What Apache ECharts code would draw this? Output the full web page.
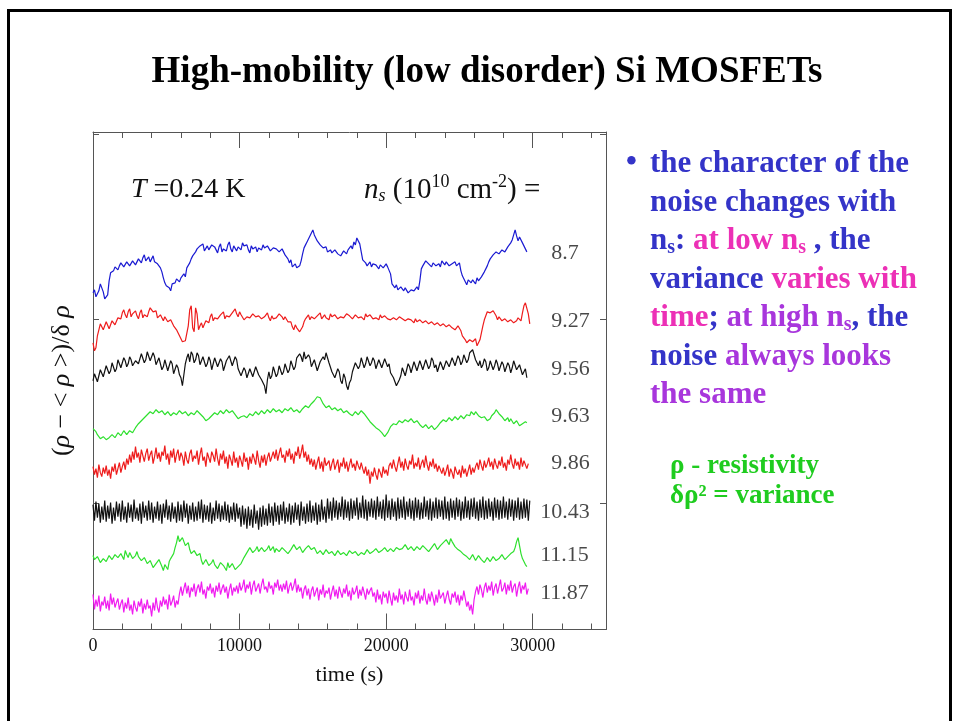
<!DOCTYPE html>
<html>
<head>
<meta charset="utf-8">
<script src="https://cdn.jsdelivr.net/npm/echarts@6/dist/echarts.min.js"></script>
<style>
  html, body { margin: 0; padding: 0; background: #fff; }
  #chart { width: 954px; height: 721px; }
</style>
</head>
<body>
<div id="chart"></div>
<script>
// Carrier densities n_s (10^10 cm^-2), one resistance-noise trace each, top to bottom
const densities = ['8.7', '9.27', '9.56', '9.63', '9.86', '10.43', '11.15', '11.87'];

// Seconds between consecutive samples
const sampleStep = 100;

// Vertical offset that stacks the traces
const traceOffset = [238, 186, 138, 88, 43, -8, -48, -93];

// Normalised fluctuation (rho - <rho>)/delta-rho of each trace, in plot units
const trace87 = [-27,-24,-31,-28,-25,-18,-20,-26,-33,-35,-29,-15,-7,-9,-5,-1,-2,-4,0,3,2,-1,1,4,3,0,1,5,4,1,2,7,6,3,8,11,5,7,9,4,7,10,4,6,2,0,
  -2,-6,-12,-17,-20,-18,-22,-25,-18,-20,-17,-13,-14,-16,-12,-10,-8,-11,-2,0,3,7,10,8,14,17,17,20,
  18,22,15,17,20,16,17,21,22,19,16,13,19,22,14,17,18,15,21,24,17,14,20,18,15,19,19,16,23,20,18,21,16,13,20,17,17,19,14,18,19,16,21,18,16,20,18,15,15,18,20,17,17,14,13,17,16,11,12,7,
  3,6,-1,1,2,-2,-3,0,5,12,18,21,24,27,30,33,36,31,28,25,24,21,
  20,18,17,19,14,12,16,13,12,16,15,12,13,10,11,15,14,12,16,18,20,17,24,21,28,30,22,14,6,4,3,0,
  2,4,-1,2,3,1,0,-3,1,3,-2,0,2,-1,-1,-8,-18,-20,-22,-19,-24,-26,-21,-23,-25,-22,-23,-27,-26,-24,-22,-25,-25,-21,-24,-15,
  -3,0,2,5,4,2,1,-1,3,5,0,2,2,-1,5,3,1,4,3,0,-1,2,2,4,0,-2,3,-5,
  -10,-13,-16,-19,-14,-16,-17,-14,-15,-18,-12,-15,-13,-11,-9,-6,
  -3,0,4,7,9,11,12,14,15,12,13,16,17,14,16,19,20,23,26,31,36,30,25,29,27,23,20,17,14];

const trace927 = [-25,-33,-30,-18,-12,-6,-8,-12,-10,-4,-6,-11,-9,-3,-4,-7,-5,0,2,-1,
  5,8,3,0,6,9,1,4,4,7,2,-1,5,8,0,3,3,1,6,10,
  9,6,4,7,0,-2,3,0,-3,1,-1,-4,-6,-2,-4,-8,-10,-12,-15,-18,
  -20,-24,-26,-23,-22,-8,8,12,-10,-14,10,4,-12,-8,-5,-10,-8,-3,-2,-5,
  1,4,-3,0,2,-1,0,3,3,6,-1,2,4,1,2,5,7,9,4,1,
  6,3,1,-2,-2,1,3,0,0,4,4,1,-1,2,2,-1,-2,1,3,5,
  0,-3,2,-1,-3,0,1,4,4,1,-2,1,0,-4,-6,-4,-9,-12,-7,-10,
  -12,-14,-15,-9,-4,-1,1,3,-2,1,3,-1,0,2,2,5,-1,1,3,0,
  1,-2,4,1,0,3,2,-1,-2,1,3,0,1,4,5,2,2,-1,0,3,
  3,0,-2,1,1,-2,4,1,0,3,2,-1,-3,0,1,-2,3,0,-1,2,
  2,-1,0,-2,-3,0,1,-2,-2,1,2,-1,-1,-3,-4,-1,0,-2,-3,-5,
  -1,-4,-5,-2,-2,-5,-6,-3,-3,-6,-7,-4,-4,-7,-8,-5,-5,-8,-9,-6,
  -6,-9,-10,-7,-7,-10,-9,-12,-11,-8,-8,-13,-18,-20,-22,-25,-26,-22,-20,-24,
  -24,-21,-28,-25,-22,-15,-8,-2,2,6,8,5,4,7,6,2,-2,1,0,-3,
  -4,-1,-1,-4,-5,-2,-2,-5,-6,-3,0,-2,-3,5,12,15,14,4,-6];

const trace956 = [-15,-8,-10,-16,-14,-4,-6,-11,-9,0,-2,-8,-5,3,1,-6,-3,6,4,-2,
  0,8,5,-1,2,9,6,0,-2,5,7,2,4,12,10,3,6,14,12,5,
  7,13,9,1,3,8,6,-4,-1,6,4,-5,-3,5,2,-8,-6,1,-2,-9,
  -12,-20,-18,2,8,12,4,14,11,3,6,13,10,1,3,9,8,-1,2,9,
  5,-4,-2,8,6,-1,1,7,4,-5,-3,5,3,10,8,0,2,9,6,-3,
  -4,-10,-8,-2,-5,-12,-10,-3,-4,-11,-9,-1,-3,-9,-7,-14,-12,-20,-28,-14,
  -6,-13,-10,-1,-3,-11,-8,0,-2,-9,-6,2,0,-7,-4,5,3,-4,-1,8,
  6,12,9,4,14,7,5,11,8,-1,0,6,4,-5,-3,4,2,9,6,13,
  11,3,2,-6,-4,-12,-10,-3,-6,-15,-18,-8,-12,-20,-24,-17,-14,-6,-4,3,
  4,-3,0,8,6,-2,2,9,7,0,3,8,5,-3,-1,6,4,-2,0,7,
  6,-1,2,-7,-5,-12,-16,-20,-22,-14,-10,-2,-4,-10,-8,2,-1,-7,-5,4,
  2,-5,-3,5,3,-4,-2,6,4,-3,0,8,5,-2,1,-6,-4,4,2,-4,
  -2,5,4,-1,1,8,6,0,2,10,7,1,4,11,9,3,6,13,11,16,
  14,6,8,0,5,-2,1,7,4,-5,-2,5,3,-4,0,6,2,-5,-3,4,
  1,-6,-4,3,0,-7,-2,5,3,-4,-6,1,2,-9,-8,-3,-12];

const trace963 = [-13,-11,-16,-19,-20,-23,-24,-21,-21,-24,-25,-22,-22,-19,-19,-22,-20,-17,-17,-20,
  -19,-15,-16,-19,-18,-15,-14,-17,-16,-12,-10,-8,-7,-5,-4,-2,-1,1,2,4,
  5,2,3,6,6,3,2,5,4,1,1,4,3,0,0,3,4,1,2,5,
  5,2,1,4,3,0,0,3,4,1,2,5,5,2,1,-1,-3,-5,-6,-3,
  -2,0,1,3,4,1,2,5,5,2,3,6,6,3,2,5,4,1,0,-3,
  -4,-1,-2,0,1,-2,-1,2,3,0,1,4,4,1,2,5,5,2,3,6,
  6,3,4,7,7,4,3,6,6,3,4,7,8,5,5,8,7,4,3,6,
  6,3,4,7,8,10,11,8,9,12,13,15,16,19,21,18,15,12,10,8,
  7,10,9,6,5,8,8,5,4,7,6,3,2,5,5,2,3,0,1,4,
  4,1,2,5,5,2,0,-2,-4,-6,-7,-9,-10,-12,-13,-14,-15,-17,-18,-21,
  -20,-17,-14,-11,-10,-8,-6,-9,-8,-5,-4,-7,-7,-4,-3,-6,-6,-3,-5,-7,
  -8,-5,-6,-9,-10,-12,-12,-9,-10,-13,-13,-10,-11,-14,-14,-11,-9,-7,-6,-4,
  -3,-6,-5,-2,-2,-5,-4,-1,-1,-4,-3,0,0,-3,-2,1,2,0,4,2,
  1,4,3,0,0,-2,-4,-1,-2,-5,-6,-3,0,2,3,6,5,2,1,-1,
  -2,-5,-4,-2,-6,-3,-5,-8,-8,-5,-7,-10,-10,-8,-9,-6,-7];

const trace986 = [-6,-14,-8,-17,-4,-12,-16,-7,-13,-5, -15,-9,-18,-6,-11,-3,-14,-8,-2,-12,
  -6,-1,-9,2,-4,6,-2,9,1,14, 3,8,-2,11,5,-1,7,12,0,6,
  10,-3,4,13,2,8,-1,9,5,15, 1,7,-4,10,3,12,-2,6,11,0,
  8,4,-5,9,1,-3,7,11,-1,5, 2,10,-4,6,13,0,4,-6,8,3,
  -2,9,5,-1,12,2,-5,7,1,10, -3,4,-8,6,1,-5,9,-2,3,-7,
  5,0,-6,8,-1,3,-9,4,-3,7, 2,-4,10,0,-7,5,-2,6,-5,3,
  8,-1,4,9,2,11,0,7,13,3, 6,-2,10,4,12,1,7,-3,9,5,
  14,2,8,16,3,9,-1,6,-4,2, -6,1,-9,-2,4,-8,-1,-11,3,-5,
  -7,0,-10,-3,2,-9,-4,1,-12,-2, -6,3,-8,-1,-11,-4,2,-7,-3,-10,
  0,-5,-9,-2,-8,-13,-6,-15,-9,-23, -11,-16,-7,-14,-19,-8,-12,-17,-6,-13,
  -9,-15,-5,-2,-8,1,-6,-11,-3,4, -7,-1,-10,2,-5,-9,0,-4,6,-8,
  -2,-6,3,-9,-3,1,-7,5,-4,-10, -1,-6,2,-8,-3,-11,-5,-9,-13,-7,
  -15,-10,-4,-16,-8,-12,-18,-6,-11,-14, -9,-17,-5,-13,-8,-16,-10,-4,-14,-7,
  -12,-6,-2,-9,1,-5,-10,0,-7,-3, 3,-6,-1,-9,2,-4,-8,0,-5,4,
  -7,-2,-10,1,-4,6,-3,-8,2,-5, -1,-9,3,-6,0,-4,-8,-3];

const trace1043 = [7,-9,10,-6,8,-11,5,-8,11,-10, 6,-7,9,-12,4,-9,10,-5,8,-10,
  11,-8,5,-11,9,-6,7,-10,12,-7, 4,-9,8,-12,10,-6,6,-9,11,-8,
  9,-11,5,-7,10,-9,7,-12,8,-6, 12,-8,6,-10,9,-7,5,-11,10,-9,
  7,-10,11,-6,8,-12,6,-8,9,-10, 5,-9,10,-7,12,-11,7,-8,6,-10,
  9,-12,4,-9,11,-7,8,-10,6,-8, 10,-9,7,-11,5,-8,9,-10,8,-7,
  4,-15,6,-13,3,-17,5,-14,2,-16, 7,-12,1,-18,4,-15,6,-13,3,-14,
  8,-11,5,-14,9,-10,6,-13,7,-9, 10,-12,4,-10,8,-13,6,-11,9,-8,
  7,-14,10,-9,5,-12,8,-10,11,-11, 6,-9,9,-13,7,-10,12,-8,5,-11,
  13,-7,10,-9,14,-6,11,-8,9,-5, 15,-8,12,-6,10,-9,13,-7,11,-4,
  14,-8,9,-6,16,-7,12,-9,10,-5, 13,-6,11,-8,15,-5,10,-7,12,-9,
  17,-6,11,-8,13,-5,10,-9,14,-7, 12,-6,15,-8,10,-5,13,-7,11,-9,
  14,-6,12,-8,9,-7,15,-5,11,-8, 13,-9,10,-6,14,-7,12,-5,11,-8,
  15,-7,10,-9,13,-6,11,-8,14,-5, 12,-9,10,-7,15,-6,11,-8,13,-5,
  14,-7,10,-9,12,-6,15,-8,11,-7, 13,-5,10,-9,14,-6,12,-8,11,-7,
  15,-6,10,-8,13,-5,12,-9,11,-6, 14,-8,10,-7,13,-6,12,-9,11];

const trace1115 = [-4,-8,-10,-5,-6,-11,-12,-7,-5,-10,-9,-4,-3,-8,-8,-3,-2,-6,-7,-2,
  -4,-8,1,-3,-6,-1,-3,-7,-8,-4,0,-5,-5,-9,-10,-6,-7,-12,-14,-9,
  -11,-16,-17,-12,-13,-8,-9,-15,-19,-13,-14,-18,-10,-7,-6,-2,4,9,16,10,
  8,14,12,6,5,9,2,-2,-3,1,0,-4,-6,-2,-9,-13,-13,-8,-10,-14,
  -15,-11,-8,-13,-12,-17,-16,-11,-9,-14,-14,-19,-11,-16,-17,-12,-13,-18,-20,-15,
  -16,-12,-10,-6,-4,-1,0,4,3,-1,-2,2,5,0,1,4,4,0,-1,3,
  6,1,2,5,-1,3,4,0,0,4,5,1,2,-2,-2,2,3,7,6,2,
  1,5,4,-1,-1,3,3,6,7,2,0,4,2,-2,-3,1,1,-3,-2,2,
  2,-2,-4,0,0,-4,-3,1,1,-3,-5,-1,-1,-4,-3,1,2,-2,-4,0,
  -1,-4,-5,-1,0,-3,-2,2,1,-2,-4,0,-1,3,2,-1,-3,1,0,4,
  3,0,-1,3,4,0,1,4,5,2,0,3,3,7,6,2,2,5,4,1,
  1,5,5,2,2,6,7,3,3,0,0,4,4,8,6,2,2,6,5,9,
  8,12,11,7,13,10,9,5,6,2,4,0,1,-3,-2,-5,-4,-8,-6,-3,
  -5,-9,-8,-4,-4,-8,-7,-11,-10,-6,-6,-10,-9,-5,-5,-9,-11,-7,-7,-3,
  -4,-8,-8,-5,-6,-2,-3,0,4,10,14,6,-2,-7,-10,-13,-15];

const trace1187 = [2,-13,-3,-10,1,-15,-5,-9,0,-12, -4,-14,3,-8,-1,-11,-6,-2,-13,-7,
  -3,-16,-6,-12,-1,-14,-8,-18,-4,-11, -15,-5,-10,-2,-17,-7,-13,-3,-12,-9,
  -20,-6,-14,-1,-11,-16,-4,-10,0,-8, -3,-13,2,-9,-5,1,-11,-4,-8,3,
  10,1,8,14,3,11,-1,9,5,13, 0,8,12,4,15,2,7,-2,10,6,
  13,3,9,-1,11,5,14,2,8,12, 4,10,-2,7,13,1,9,5,11,3,
  14,6,10,17,4,12,8,15,2,11, 16,5,9,13,3,12,18,7,10,4,
  15,8,11,2,14,9,17,6,12,5, 13,7,16,3,10,14,6,11,18,4,
  12,5,9,-2,7,11,1,8,-3,6, 10,0,5,9,-4,7,2,12,-1,6,
  3,9,-3,5,11,0,7,-2,10,4, -1,8,3,12,0,6,-4,9,2,5,
  11,-2,7,1,10,4,-3,8,2,6, 9,0,4,-6,7,-3,2,-8,5,-1,
  3,-7,6,-2,-9,4,-4,1,-6,8, -3,2,-8,5,-1,-5,7,-4,0,-9,
  4,-2,6,-7,1,-4,8,-3,-8,3, -5,5,-1,-9,2,-6,7,-2,-4,4,
  -7,0,6,-3,-8,3,-1,5,-6,2, -9,1,-4,6,-2,-10,-5,-14,-8,-18,
  -3,5,10,2,12,7,-1,9,14,4, 11,6,15,1,9,13,3,10,17,5,
  8,14,2,12,6,16,4,10,13,0, 9,15,3,11,7,14,2,8];

const traces = [trace87, trace927, trace956, trace963, trace986, trace1043, trace1115, trace1187];

// Time axis tick labels (s)
const timeTicks = [0, 10000, 20000, 30000];

// Styling and layout
const traceColors = ['#1a1ad2', '#ee1c1c', '#111111', '#2ee02e', '#ee1c1c', '#111111', '#2ee02e', '#f01cf0'];
const labelTime = 31260;                       // left edge of the density labels
const labelLevels = [251, 183, 135, 87, 40, -9, -52, -90];
const serif = '"Liberation Serif", "DejaVu Serif", serif';
const frameColor = '#555';
const blue = '#3434c8', pink = '#ec30b6', violet = '#a836dc', green = '#1fcc1f';

const chart = echarts.init(document.getElementById('chart'), null, { renderer: 'canvas' });

const lineSeries = traces.map((vals, k) => ({
  type: 'line',
  name: densities[k],
  data: vals.map((d, i) => [i * sampleStep, traceOffset[k] + d]),
  showSymbol: false,
  symbol: 'none',
  silent: true,
  animation: false,
  lineStyle: { width: 1.2, color: traceColors[k] },
  z: 2
}));

const labelSeries = {
  type: 'scatter',
  symbolSize: 0,
  silent: true,
  animation: false,
  data: densities.map((d, k) => ({
    value: [labelTime, labelLevels[k]],
    label: { offset: [parseFloat(d) >= 10 ? -11 : 0, 0] }
  })),
  label: {
    show: true,
    position: 'right',
    distance: 0,
    formatter: p => densities[p.dataIndex],
    fontFamily: serif,
    fontSize: 22,
    color: '#1a1a1a'
  },
  z: 3
};

const xBase = {
  type: 'value',
  min: 0,
  max: 35000,
  interval: 10000,
  axisLine: { show: true, onZero: false, lineStyle: { color: frameColor, width: 1 } },
  axisTick: { show: true, inside: true, length: 16, lineStyle: { color: frameColor, width: 1 } },
  minorTick: { show: true, splitNumber: 5, length: 6, lineStyle: { color: frameColor, width: 1 } },
  splitLine: { show: false },
  minorSplitLine: { show: false }
};

const yBase = {
  type: 'value',
  min: -126,
  max: 372,
  axisLine: { show: true, onZero: false, lineStyle: { color: frameColor, width: 1 } },
  axisTick: { show: true, inside: true, length: 6, customValues: [0, 185, 370], lineStyle: { color: frameColor, width: 1 } },
  axisLabel: { show: false },
  splitLine: { show: false }
};

chart.setOption({
  animation: false,
  backgroundColor: '#ffffff',
  grid: { left: 93, top: 132, right: 348, bottom: 91.5, containLabel: false, outerBoundsMode: 'none' },
  xAxis: [
    Object.assign({}, xBase, {
      position: 'bottom',
      name: 'time (s)',
      nameLocation: 'middle',
      nameGap: 35,
      nameTextStyle: { fontFamily: serif, fontSize: 22, color: '#111' },
      axisLabel: {
        show: true,
        margin: 8,
        fontFamily: serif,
        fontSize: 18,
        color: '#111',
        formatter: v => (timeTicks.indexOf(v) >= 0 ? String(v) : '')
      }
    }),
    Object.assign({}, xBase, { position: 'top', axisLabel: { show: false } })
  ],
  yAxis: [
    Object.assign({}, yBase, {
      position: 'left',
      name: '({i|ρ} − < {i|ρ} >)/δ {i|ρ}',
      nameLocation: 'middle',
      nameGap: 18,
      nameTextStyle: {
        fontFamily: serif, fontSize: 26, color: '#111',
        rich: { i: { fontFamily: serif, fontSize: 26, fontStyle: 'italic', color: '#111' } }
      }
    }),
    Object.assign({}, yBase, { position: 'right' })
  ],
  series: lineSeries.concat([labelSeries]),
  graphic: [
    {
      type: 'rect', silent: true, z: 0,
      shape: { x: 8.5, y: 10.5, width: 942, height: 780 },
      style: { fill: 'none', stroke: '#000', lineWidth: 3 }
    },
    {
      type: 'text', silent: true, x: 487, y: 72,
      style: {
        text: 'High-mobility (low disorder) Si MOSFETs',
        fontFamily: serif, fontSize: 37, fontWeight: 'bold',
        fill: '#000', textAlign: 'center', textVerticalAlign: 'middle'
      }
    },
    {
      type: 'text', silent: true, x: 131, y: 190,
      style: {
        text: '{i|T} =0.24 K',
        fontFamily: serif, fontSize: 28, fill: '#111', textVerticalAlign: 'middle',
        rich: { i: { fontFamily: serif, fontSize: 28, fontStyle: 'italic', fill: '#111' } }
      }
    },
    {
      type: 'text', silent: true, x: 364, y: 190,
      style: {
        text: '{i|n}{sub|s} (10{sup|10} cm{sup|-2}) =',
        fontFamily: serif, fontSize: 29, fill: '#111', textVerticalAlign: 'middle',
        rich: {
          i: { fontFamily: serif, fontSize: 29, fontStyle: 'italic', fill: '#111' },
          sub: { fontFamily: serif, fontSize: 18, fontStyle: 'italic', fill: '#111', padding: [13, 0, 0, 0] },
          sup: { fontFamily: serif, fontSize: 18, fill: '#111', padding: [0, 0, 15, 0] }
        }
      }
    },
    {
      type: 'text', silent: true, x: 626, y: 163,
      style: {
        text: '•', fontFamily: serif, fontSize: 31, fontWeight: 'bold',
        fill: blue, textVerticalAlign: 'middle'
      }
    },
    {
      type: 'text', silent: true, x: 650, y: 145,
      style: {
        text: [
          '{b|the character of the}',
          '{b|noise changes with}',
          '{b|n}{bs|s}{b|: }{p|at low n}{ps|s}{b| , the}',
          '{b|variance }{p|varies with}',
          '{p|time}{b|; }{v|at high n}{vs|s}{b|, the}',
          '{b|noise }{v|always looks}',
          '{v|the same}'
        ].join('\n'),
        fontFamily: serif, fontSize: 31, fontWeight: 'bold', lineHeight: 38.5,
        fill: blue, textVerticalAlign: 'top',
        rich: {
          b: { fontFamily: serif, fontSize: 31, fontWeight: 'bold', fill: blue },
          p: { fontFamily: serif, fontSize: 31, fontWeight: 'bold', fill: pink },
          v: { fontFamily: serif, fontSize: 31, fontWeight: 'bold', fill: violet },
          bs: { fontFamily: serif, fontSize: 20, fontWeight: 'bold', fill: blue, padding: [14, 0, 0, 0] },
          ps: { fontFamily: serif, fontSize: 20, fontWeight: 'bold', fill: pink, padding: [14, 0, 0, 0] },
          vs: { fontFamily: serif, fontSize: 20, fontWeight: 'bold', fill: violet, padding: [14, 0, 0, 0] }
        }
      }
    },
    {
      type: 'text', silent: true, x: 670, y: 451,
      style: {
        text: 'ρ - resistivity\nδρ² = variance',
        fontFamily: serif, fontSize: 27, fontWeight: 'bold', lineHeight: 30,
        fill: green, textVerticalAlign: 'top'
      }
    }
  ]
});
</script>
</body>
</html>
